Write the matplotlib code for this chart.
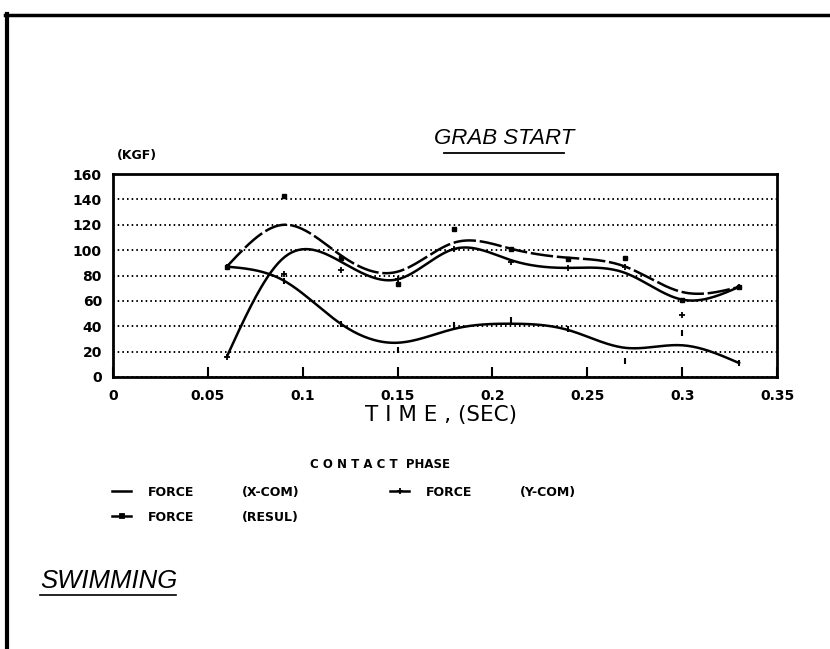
import matplotlib
matplotlib.use("Agg")
import matplotlib.pyplot as plt
import numpy as np
from matplotlib.lines import Line2D

# Sample times (s)
TIME = [0.06, 0.09, 0.12, 0.15, 0.18, 0.21, 0.24, 0.27, 0.30, 0.33]

# Smoothed curves (KGF)
X_COM_FIT = [87, 76, 42, 27, 38, 42, 37, 23, 25, 11]
Y_COM_FIT = [16, 94, 91, 77, 101, 92, 86, 82, 61, 71]
RESUL_FIT = [87, 120, 96, 83, 106, 101, 94, 87, 67, 71]

# Measured points (KGF)
X_COM_PTS = [87, 76, 42, 21, 41, 45, 38, 13, 35, 11]
Y_COM_PTS = [16, 81, 84, 77, 101, 91, 86, 87, 49, 71]
RESUL_PTS = [87, 143, 94, 73, 117, 101, 93, 94, 61, 71]

X_TICKS = [0, 0.05, 0.1, 0.15, 0.2, 0.25, 0.3, 0.35]
X_LABELS = ["0", "0.05", "0.1", "0.15", "0.2", "0.25", "0.3", "0.35"]
Y_TICKS = [0, 20, 40, 60, 80, 100, 120, 140, 160]

W, H = 830, 649


def px(x, y):
    # pixel position (from top-left) -> figure fraction
    return x / W, 1 - y / H


def natural_spline(x, y, n=300):
    x = np.asarray(x, float)
    y = np.asarray(y, float)
    k = len(x)
    h = np.diff(x)
    A = np.zeros((k, k))
    b = np.zeros(k)
    A[0, 0] = A[-1, -1] = 1
    for i in range(1, k - 1):
        A[i, i - 1] = h[i - 1]
        A[i, i] = 2 * (h[i - 1] + h[i])
        A[i, i + 1] = h[i]
        b[i] = 6 * ((y[i + 1] - y[i]) / h[i] - (y[i] - y[i - 1]) / h[i - 1])
    M = np.linalg.solve(A, b)
    xs = np.linspace(x[0], x[-1], n)
    idx = np.clip(np.searchsorted(x, xs) - 1, 0, k - 2)
    x0, x1 = x[idx], x[idx + 1]
    hh = x1 - x0
    ys = (M[idx] * (x1 - xs) ** 3 / (6 * hh) + M[idx + 1] * (xs - x0) ** 3 / (6 * hh)
          + (y[idx] / hh - M[idx] * hh / 6) * (x1 - xs)
          + (y[idx + 1] / hh - M[idx + 1] * hh / 6) * (xs - x0))
    return xs, ys


fig = plt.figure(figsize=(W / 100, H / 100), dpi=100)
fig.patch.set_facecolor("white")

ax = fig.add_axes([113 / W, 1 - 377 / H, 664 / W, 203 / H])

styles = {
    "x": dict(color="black", lw=1.8, ls="-"),
    "y": dict(color="black", lw=1.8, ls="-"),
    "r": dict(color="black", lw=1.8, ls=(0, (9, 1.5))),
}

xs, ys = natural_spline(TIME, X_COM_FIT)
ax.plot(xs, ys, **styles["x"])
ax.plot(TIME, X_COM_PTS, ls="none", marker="|", ms=5, mew=1.5, color="black")

xs, ys = natural_spline(TIME, Y_COM_FIT)
ax.plot(xs, ys, **styles["y"])
ax.plot(TIME, Y_COM_PTS, ls="none", marker="+", ms=5, mew=1.3, color="black")

xs, ys = natural_spline(TIME, RESUL_FIT)
ax.plot(xs, ys, **styles["r"])
ax.plot(TIME, RESUL_PTS, ls="none", marker="s", ms=3, color="black")

ax.set_xlim(0, 0.35)
ax.set_ylim(0, 160)
ax.set_xticks(X_TICKS)
ax.set_xticklabels(X_LABELS)
ax.set_yticks(Y_TICKS)
ax.grid(axis="y", color="black", lw=1.4, ls=(0, (0.8, 1.6)))
ax.tick_params(axis="x", direction="in", length=7, width=1.5, pad=9)
ax.tick_params(axis="y", length=0, pad=8)
for lab in ax.get_xticklabels() + ax.get_yticklabels():
    lab.set_fontweight("bold")
    lab.set_fontsize(10)
for sp in ax.spines.values():
    sp.set_linewidth(2)

fig.text(*px(117, 155), "(KGF)", fontsize=9, fontweight="bold", va="center", ha="left")

# title with underline
fig.text(*px(504, 138), "GRAB START", fontsize=16, style="italic", family="Liberation Sans",
         ha="center", va="center")
fig.add_artist(Line2D([444 / W, 564 / W], [1 - 153 / H] * 2, color="black", lw=1.3))

fig.text(*px(441, 415), "T I M E , (SEC)", fontsize=15.5, ha="center", va="center")
fig.text(*px(380, 465), "C O N T A C T  PHASE", fontsize=8.5, fontweight="bold",
         ha="center", va="center")

# legend, drawn by hand to keep the original spacing
legend_rows = [
    (112, 491, styles["x"], None, "(X-COM)"),
    (390, 491, styles["y"], "+", "(Y-COM)"),
    (112, 516, styles["r"], "s", "(RESUL)"),
]
for lx, ly, st, mk, name in legend_rows:
    fx0, fy = px(lx, ly)
    fx1, _ = px(lx + 19, ly)
    fig.add_artist(Line2D([fx0, fx1], [fy, fy], color="black", lw=1.8, ls="-"))
    if mk:
        fig.add_artist(Line2D([(fx0 + fx1) / 2], [fy], marker=mk, ms=5 if mk == "+" else 3,
                              mew=1.3, color="black"))
    fig.text(*px(lx + 36, ly + 5), "FORCE", fontsize=9, fontweight="bold", va="baseline")
    fig.text(*px(lx + 130, ly + 5), name, fontsize=9, fontweight="bold", va="baseline")

fig.text(*px(40, 581), "SWIMMING", fontsize=18.5, style="italic", family="Liberation Sans",
         va="center")
fig.add_artist(Line2D([40 / W, 176 / W], [1 - 595 / H] * 2, color="black", lw=1.2))

# page border from the scan
fig.add_artist(Line2D([7 / W, 7 / W], [0, 1 - 14 / H], color="black", lw=3))
fig.add_artist(Line2D([5 / W, 1], [1 - 15 / H] * 2, color="black", lw=2.5))

fig.savefig("out.png", dpi=100, facecolor="white")
